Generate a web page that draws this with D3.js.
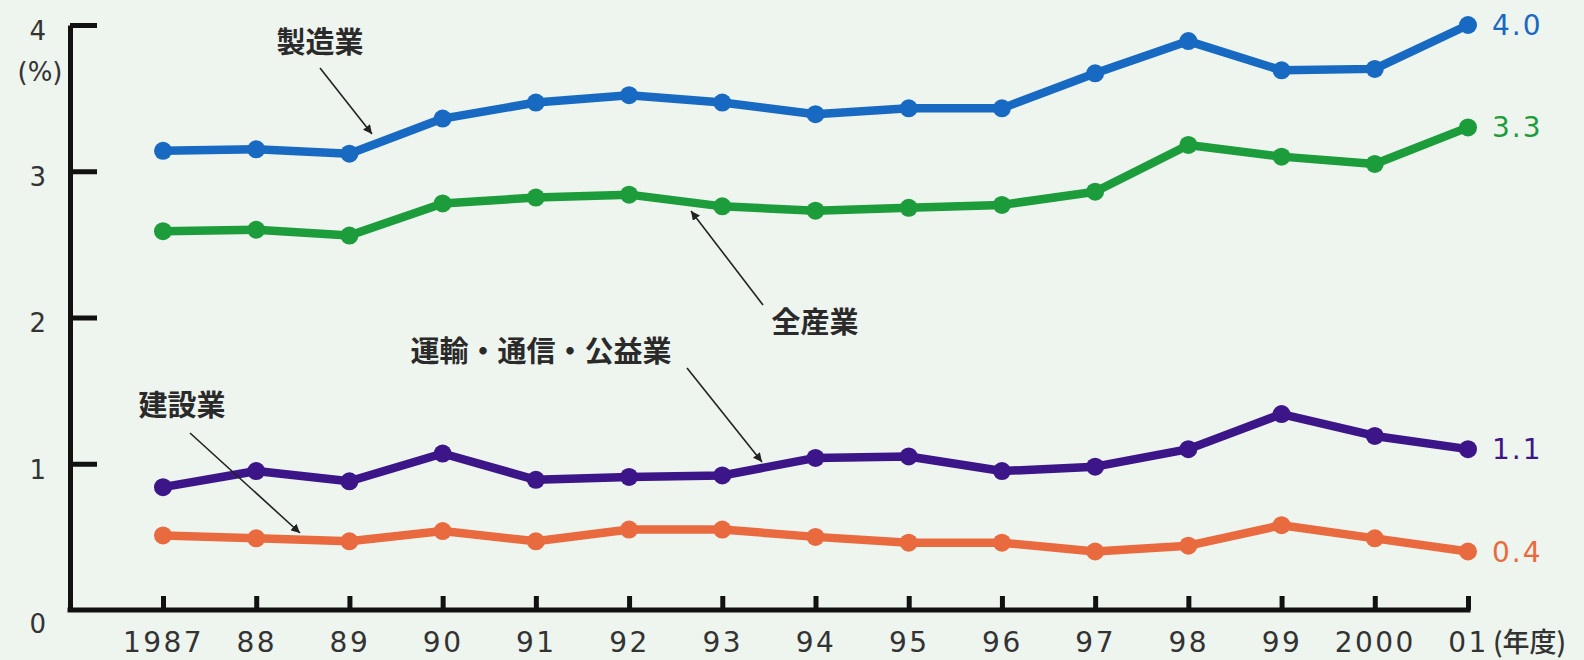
<!DOCTYPE html>
<html>
<head>
<meta charset="utf-8">
<script src="https://cdn.jsdelivr.net/npm/d3@7"></script>
<style>
  body { margin: 0; background: #eef4ee; }
  svg { display: block; }
</style>
</head>
<body>
<div id="chart-area"></div>
<script>
// data
var years = [1987, 1988, 1989, 1990, 1991, 1992, 1993, 1994, 1995, 1996, 1997, 1998, 1999, 2000, 2001];
var yearLabels = ['1987', '88', '89', '90', '91', '92', '93', '94', '95', '96', '97', '98', '99', '2000', '01'];
var yTicks = [0, 1, 2, 3, 4];

var seizo   = [3.14, 3.15, 3.12, 3.36, 3.47, 3.52, 3.47, 3.39, 3.43, 3.43, 3.67, 3.89, 3.69, 3.70, 4.0];
var zensan  = [2.59, 2.60, 2.56, 2.78, 2.82, 2.84, 2.76, 2.73, 2.75, 2.77, 2.86, 3.18, 3.10, 3.05, 3.30];
var unyu    = [0.84, 0.95, 0.88, 1.07, 0.89, 0.91, 0.92, 1.04, 1.05, 0.95, 0.98, 1.10, 1.34, 1.19, 1.10];
var kensetsu = [0.51, 0.49, 0.47, 0.54, 0.47, 0.55, 0.55, 0.50, 0.46, 0.46, 0.40, 0.44, 0.58, 0.49, 0.40];

var endLabels = ['4.0', '3.3', '1.1', '0.4'];

var series = [
  { name: '製造業', values: seizo, color: '#1769c2', end: endLabels[0] },
  { name: '全産業', values: zensan, color: '#1c9c3a', end: endLabels[1] },
  { name: '運輸・通信・公益業', values: unyu, color: '#3c1589', end: endLabels[2] },
  { name: '建設業', values: kensetsu, color: '#ea6a40', end: endLabels[3] }
];

var W = 1584, H = 660;
var axisX = 70;

var svg = d3.select('#chart-area').append('svg')
    .attr('width', W)
    .attr('height', H);

svg.append('rect').attr('width', W).attr('height', H).attr('fill', '#eef4ee');

var x = d3.scaleLinear().domain([1987, 2001]).range([163, 1468]);
var y = d3.scaleLinear().domain([0, 4]).range([610, 25]);

var numFont = '"DejaVu Sans", sans-serif';
var jpFont = '"Noto Sans CJK JP", sans-serif';

// y axis
var yAxis = d3.axisLeft(y)
    .tickValues(yTicks)
    .tickSize(-27)
    .tickSizeOuter(0)
    .tickPadding(24)
    .tickFormat(d3.format('d'));

var gy = svg.append('g')
    .attr('transform', 'translate(' + axisX + ',0)')
    .call(yAxis);
gy.select('.domain').attr('stroke', '#111').attr('stroke-width', 5);
gy.selectAll('.tick line').attr('stroke', '#111').attr('stroke-width', 5);
gy.selectAll('.tick line').filter(d => d == 0).remove();
gy.selectAll('.tick text')
    .attr('font-family', numFont)
    .attr('font-size', 26)
    .attr('fill', '#333')
    .attr('dy', d => d == 0 ? '0.85em' : '0.55em');

svg.append('text')
    .attr('x', 40).attr('y', 81)
    .attr('text-anchor', 'middle')
    .attr('font-family', numFont)
    .attr('font-size', 26)
    .attr('fill', '#333')
    .text('(%)');

// x axis
var xAxis = d3.axisBottom(x)
    .tickValues(years)
    .tickSize(-14)
    .tickSizeOuter(0)
    .tickPadding(22)
    .tickFormat((d, i) => yearLabels[i]);

var gx = svg.append('g')
    .attr('transform', 'translate(0,' + y(0) + ')')
    .call(xAxis);
gx.select('.domain').remove();
gx.selectAll('.tick line').attr('stroke', '#111').attr('stroke-width', 5);
gx.selectAll('.tick text')
    .attr('font-family', numFont)
    .attr('font-size', 28)
    .attr('letter-spacing', 2.5)
    .attr('fill', '#333');

svg.append('line')
    .attr('x1', axisX - 2.5).attr('x2', x(2001) + 2.5)
    .attr('y1', y(0)).attr('y2', y(0))
    .attr('stroke', '#111').attr('stroke-width', 5);

svg.append('text')
    .attr('x', 1493).attr('y', 652)
    .attr('font-family', jpFont)
    .attr('font-size', 27)
    .attr('font-weight', 500)
    .attr('fill', '#333')
    .text('(年度)');

// lines
var line = d3.line()
    .x((d, i) => x(years[i]))
    .y(d => y(d));

series.forEach(s => {
  var g = svg.append('g');
  g.append('path')
      .datum(s.values)
      .attr('d', line)
      .attr('fill', 'none')
      .attr('stroke', s.color)
      .attr('stroke-width', 8.5)
      .attr('stroke-linejoin', 'round');
  g.selectAll('circle')
      .data(s.values)
      .enter()
      .append('circle')
      .attr('cx', (d, i) => x(years[i]))
      .attr('cy', d => y(d))
      .attr('r', 9)
      .attr('fill', s.color);
  g.append('text')
      .attr('x', 1492)
      .attr('y', y(s.values[s.values.length - 1]))
      .attr('dy', '0.36em')
      .attr('font-family', numFont)
      .attr('font-size', 28)
      .attr('letter-spacing', 2)
      .attr('fill', s.color)
      .text(s.end);
});

// annotations
svg.append('defs').append('marker')
    .attr('id', 'arr')
    .attr('viewBox', '0 0 10 10')
    .attr('refX', 10).attr('refY', 5)
    .attr('markerWidth', 9).attr('markerHeight', 9)
    .attr('markerUnits', 'userSpaceOnUse')
    .attr('orient', 'auto')
    .append('path')
    .attr('d', 'M0,0 L10,5 L0,10 z')
    .attr('fill', '#222');

var notes = [
  { text: series[0].name, tx: 320, ty: 43, from: [320, 68], to: [372, 134] },
  { text: series[1].name, tx: 815, ty: 323, from: [763, 305], to: [691, 211] },
  { text: series[2].name, tx: 541, ty: 352, from: [687, 368], to: [762, 462] },
  { text: series[3].name, tx: 182, ty: 406, from: [190, 433], to: [300, 533] }
];

notes.forEach(n => {
  svg.append('text')
      .attr('x', n.tx).attr('y', n.ty)
      .attr('dy', '0.36em')
      .attr('text-anchor', 'middle')
      .attr('font-family', jpFont)
      .attr('font-size', 29)
      .attr('font-weight', 700)
      .attr('fill', '#2a2a2a')
      .text(n.text);
  svg.append('line')
      .attr('x1', n.from[0]).attr('y1', n.from[1])
      .attr('x2', n.to[0]).attr('y2', n.to[1])
      .attr('stroke', '#222')
      .attr('stroke-width', 1.6)
      .attr('marker-end', 'url(#arr)');
});
</script>
</body>
</html>
